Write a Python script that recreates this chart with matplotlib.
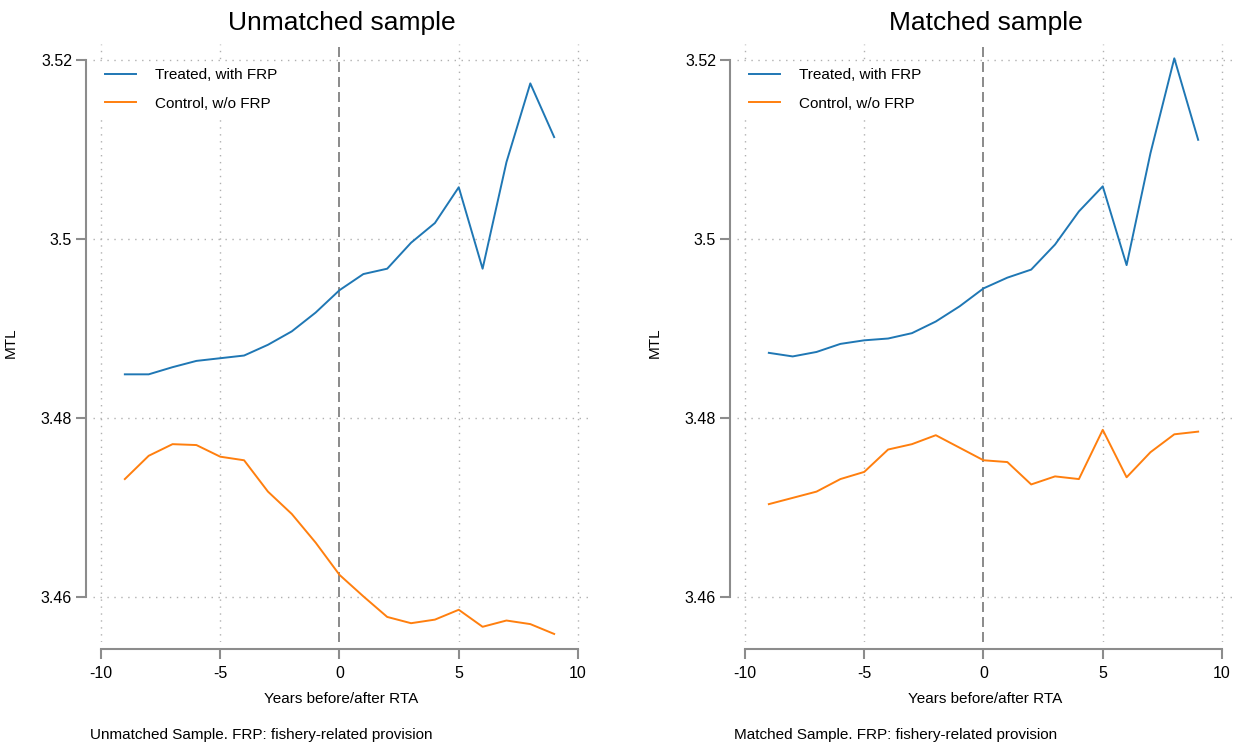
import matplotlib
matplotlib.use("Agg")
import matplotlib.pyplot as plt
from matplotlib.ticker import FixedLocator, FixedFormatter

plt.rcParams["font.family"] = ["Liberation Sans", "DejaVu Sans"]

years = list(range(-9, 10))

# unmatched sample
unm_treated = [3.4849, 3.4849, 3.4857, 3.4864, 3.4867, 3.4870, 3.4882, 3.4897, 3.4918, 3.4943,
               3.4961, 3.4967, 3.4996, 3.5018, 3.5058, 3.4967, 3.5086, 3.5174, 3.5114]
unm_control = [3.4732, 3.4758, 3.4771, 3.4770, 3.4757, 3.4753, 3.4718, 3.4693, 3.4661, 3.4625,
               3.4601, 3.4578, 3.4571, 3.4575, 3.4586, 3.4567, 3.4574, 3.4570, 3.4559]

# matched sample
mat_treated = [3.4873, 3.4869, 3.4874, 3.4883, 3.4887, 3.4889, 3.4895, 3.4908, 3.4925, 3.4945,
               3.4957, 3.4966, 3.4994, 3.5031, 3.5059, 3.4971, 3.5096, 3.5202, 3.5111]
mat_control = [3.4704, 3.4711, 3.4718, 3.4732, 3.4740, 3.4765, 3.4771, 3.4781, 3.4767, 3.4753,
               3.4751, 3.4726, 3.4735, 3.4732, 3.4787, 3.4734, 3.4762, 3.4782, 3.4785]

yticks = [3.46, 3.48, 3.50, 3.52]
ytick_labels = ["3.46", "3.48", "3.5", "3.52"]
xticks = [-10, -5, 0, 5, 10]

panels = [
    ("Unmatched sample", unm_treated, unm_control, "Unmatched Sample. FRP: fishery-related provision"),
    ("Matched sample", mat_treated, mat_control, "Matched Sample. FRP: fishery-related provision"),
]

W, H = 1248, 749
fig = plt.figure(figsize=(W / 100, H / 100), dpi=100)
fig.patch.set_facecolor("white")

axis_grey = "#8c8c8c"
lefts = [93, 737]

for (title, treated, control, note), left in zip(panels, lefts):
    ax = fig.add_axes([left / W, (H - 642) / H, 497 / W, 598 / H])
    ax.set_xlim(-10.335, 10.503)
    ax.set_ylim(3.455, 3.5218)

    # dotted grid at tick positions, dashed reference line at the RTA year
    for y in yticks:
        ax.axhline(y, color="#b0b0b0", lw=1.0, ls=(0, (1, 4)), zorder=0)
    for x in xticks:
        if x != 0:
            ax.axvline(x, color="#b0b0b0", lw=1.0, ls=(0, (1, 4)), zorder=0)
    ax.axvline(0, color="#777777", lw=1.2, ls=(0, (6, 3)), zorder=1)

    ax.plot(years, treated, color="#1f77b4", lw=1.4, label="Treated, with FRP", zorder=3)
    ax.plot(years, control, color="#ff7f0e", lw=1.4, label="Control, w/o FRP", zorder=3)

    for s in ["top", "right"]:
        ax.spines[s].set_visible(False)
    ax.spines["left"].set_position(("outward", 5))
    ax.spines["bottom"].set_position(("outward", 5))
    ax.spines["left"].set_bounds(3.46, 3.52)
    ax.spines["bottom"].set_bounds(-10, 10)
    for s in ["left", "bottom"]:
        ax.spines[s].set_color(axis_grey)
        ax.spines[s].set_linewidth(1.5)

    ax.yaxis.set_major_locator(FixedLocator(yticks))
    ax.yaxis.set_major_formatter(FixedFormatter(ytick_labels))
    ax.set_xticks(xticks)
    ax.set_xticklabels([str(x) for x in xticks])
    ax.tick_params(axis="both", colors=axis_grey, length=7, width=1.5, labelsize=11.5,
                   labelcolor="black")
    ax.tick_params(axis="y", pad=3)
    ax.tick_params(axis="x", pad=5)

    ax.set_title(title, fontsize=19, pad=10)
    ax.set_ylabel("MTL", fontsize=11)
    ax.yaxis.set_label_coords(-0.151, 0.5)
    ax.set_xlabel("Years before/after RTA", fontsize=11, labelpad=8)

    leg = ax.legend(loc="upper left", bbox_to_anchor=(0.012, 0.970), fontsize=11,
                    frameon=True, fancybox=False, handlelength=2.0, handletextpad=1.3,
                    labelspacing=0.95, borderaxespad=0.0, borderpad=0.4)
    leg.get_frame().set_facecolor("white")
    leg.get_frame().set_edgecolor("white")
    leg.get_frame().set_alpha(1.0)
    leg.set_zorder(5)

    fig.text((left - 3) / W, 1 - 735 / H, note, fontsize=11, ha="left", va="center")

fig.savefig("out.png", dpi=100, facecolor="white")
